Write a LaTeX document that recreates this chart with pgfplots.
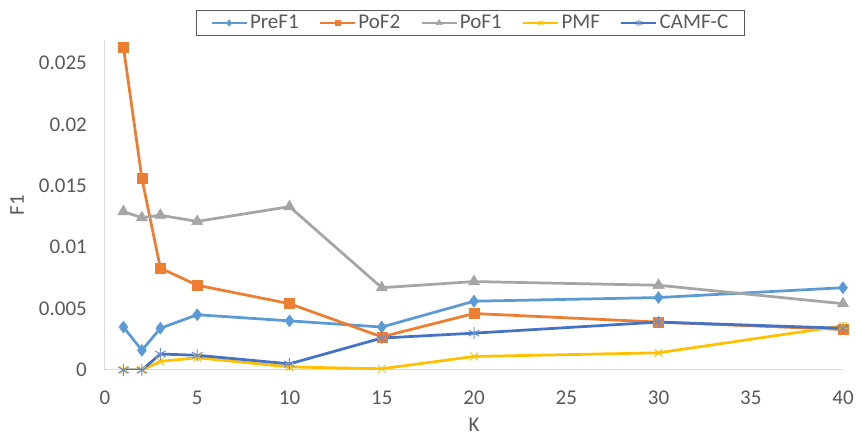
\documentclass[border=0pt]{standalone}
\usepackage{pgfplots}
\pgfplotsset{compat=1.18}
\usepackage{fontspec}
\setmainfont{Carlito}
\definecolor{cPre}{RGB}{91,155,213}
\definecolor{cPoF2}{RGB}{237,125,49}
\definecolor{cPoF1}{RGB}{165,165,165}
\definecolor{cPMF}{RGB}{255,192,0}
\definecolor{cCAMF}{RGB}{68,114,196}
\definecolor{txt}{RGB}{89,89,89}
\definecolor{axl}{RGB}{217,217,217}
\begin{document}
\begin{tikzpicture}
\useasboundingbox (-105pt,-73pt) rectangle (751pt,370pt);
\begin{axis}[
  scale only axis,
  width=738pt, height=330pt,
  xmin=0, xmax=40, ymin=0, ymax=0.02687,
  scaled y ticks=false, scaled x ticks=false,
  axis x line*=bottom, axis y line*=left,
  axis line style={draw=axl, line width=1pt, -},
  major tick length=0pt,
  xtick={0,5,10,15,20,25,30,35,40},
  xticklabels={0,5,10,15,20,25,30,35,40},
  ytick={0,0.005,0.01,0.015,0.02,0.025},
  yticklabels={0,0.005,0.01,0.015,0.02,0.025},
  tick label style={font=\fontsize{21}{25}\selectfont, text=txt, inner sep=0pt},
  xticklabel style={anchor=base, yshift=-35pt},
  yticklabel style={anchor=east, xshift=-18pt},
  xlabel={K}, ylabel={F1},
  label style={font=\fontsize{21}{25}\selectfont, text=txt},
  xlabel style={at={(axis description cs:0.50,-0.185)}, anchor=base, inner sep=0pt},
  ylabel style={at={(axis description cs:-0.119,0.5)}, anchor=center, rotate=0, inner sep=0pt},
  legend columns=-1,
  legend style={at={(axis description cs:0.495,1)}, anchor=south, yshift=4pt,
    draw=txt, line width=1pt, font=\fontsize{21}{25}\selectfont, text=txt,
    inner xsep=14pt, inner ysep=3pt,
    /tikz/every even column/.append style={column sep=18pt}},
  legend cell align=left,
  legend image code/.code={\draw[mark repeat=2,mark phase=2, every mark/.append style={scale=0.55}] plot coordinates {(0pt,0pt) (17.5pt,0pt) (35pt,0pt)};},
  every axis plot/.append style={line width=2.75pt},
]
\addplot[color=cPre, mark=diamond*, mark size=6pt, mark options={solid, fill=cPre, line width=0.5pt}] coordinates {
(1,0.0035) (2,0.0016) (3,0.0034) (5,0.0045) (10,0.0040) (15,0.0035) (20,0.0056) (30,0.0059) (40,0.0067)};
\addlegendentry{PreF1}
\addplot[color=cPoF2, mark=square*, mark size=5pt, mark options={solid, fill=cPoF2, line width=0.5pt}] coordinates {
(1,0.0263) (2,0.0156) (3,0.0083) (5,0.0069) (10,0.0054) (15,0.0027) (20,0.0046) (30,0.0039) (40,0.0033)};
\addlegendentry{PoF2}
\addplot[color=cPoF1, mark=triangle*, mark size=6.5pt, mark options={solid, fill=cPoF1, line width=0.5pt}] coordinates {
(1,0.0129) (2,0.0124) (3,0.0126) (5,0.0121) (10,0.0133) (15,0.0067) (20,0.0072) (30,0.0069) (40,0.0054)};
\addlegendentry{PoF1}
\addplot[color=cPMF, mark=x, mark size=5.5pt, mark options={solid, line width=1pt}] coordinates {
(1,0) (2,0) (3,0.0007) (5,0.0010) (10,0.00025) (15,0.0001) (20,0.0011) (30,0.0014) (40,0.0036)};
\addlegendentry{PMF}
\addplot[color=cCAMF, mark=asterisk, mark size=6pt, mark options={solid, line width=1pt, draw=cCAMF!80!white}] coordinates {
(1,0) (2,0) (3,0.0013) (5,0.0012) (10,0.0005) (15,0.0026) (20,0.0030) (30,0.0039) (40,0.0034)};
\addlegendentry{CAMF-C}
\end{axis}
\end{tikzpicture}
\end{document}
